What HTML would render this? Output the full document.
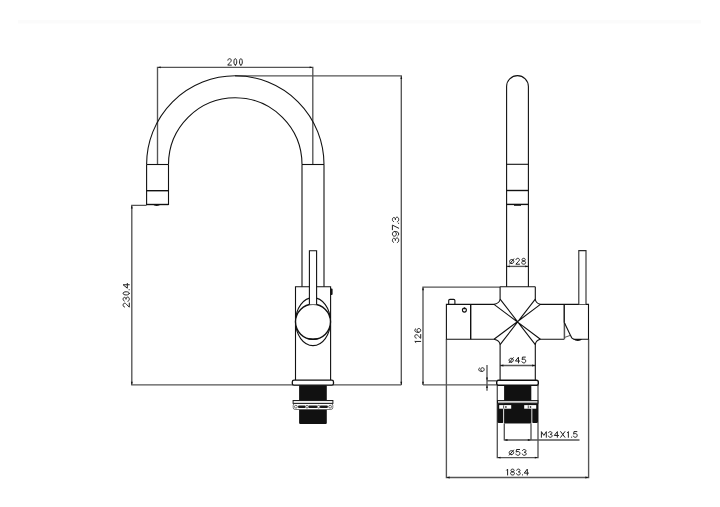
<!DOCTYPE html>
<html>
<head>
<meta charset="utf-8">
<title>Faucet dimensions</title>
<style>
html,body{margin:0;padding:0;background:#fff;}
body{width:720px;height:507px;overflow:hidden;font-family:"Liberation Sans",sans-serif;}
svg{display:block;}
.l{fill:none;stroke:#111;stroke-width:1.1;}
.t{fill:none;stroke:#111;stroke-width:1.4;}
.d{fill:none;stroke:#555;stroke-width:1.35;}
.w{fill:#fff;stroke:#111;stroke-width:1.1;}
.k{fill:#111;stroke:none;}
.ar{fill:#111;stroke:none;}
.tx{fill:none;stroke:#222;stroke-linecap:round;stroke-linejoin:round;}
</style>
</head>
<body>
<svg width="720" height="507" viewBox="0 0 720 507">
<rect width="720" height="507" fill="#fff"/>
<rect x="18" y="20" width="683" height="3.5" fill="#fbfbfb"/>

<!-- ================= LEFT VIEW ================= -->
<g class="d">
  <path d="M157.5 164.5V67.3H312.8V164.5"/>
  <path d="M235 75.9H401.3V384.9"/>
  <path d="M146.6 205.3H131.8V384.9H401.3"/>
</g>
<!-- spout arch -->
<g class="l">
  <path d="M146.6 164.5A88.7 88.7 0 0 1 324 164.5"/>
  <path d="M168.5 164.5A66.75 66.75 0 0 1 302 164.5"/>
  <path d="M146.6 164.5H168.5"/>
  <path d="M302 164.5H324"/>
  <path d="M146.6 164.5V204.5H168.5V164.5"/>
  <path d="M302 164.5V286.7"/>
  <path d="M324 164.5V286.7"/>
</g>
<path class="t" d="M146.6 190.7H168.5"/>
<path class="t" d="M146.6 204.5H168.5"/>
<path class="k" d="M152.8 204.6h7.8q-1.2 1.4-3.9 1.4t-3.9-1.4z"/>
<!-- body -->
<g class="l">
  <path d="M295.5 380V286.7H330.6V380"/>
  <ellipse cx="313" cy="321.6" rx="17.4" ry="24"/>
</g>
<path class="k" d="M330.6 288.6h1q1 0 1 1.2v4q0 1.2-1 1.2h-1z"/>
<circle cx="313" cy="321.8" r="17.5" fill="#fff" stroke="#111" stroke-width="1.4"/>
<path d="M307.5 338.6Q313 340.6 318.5 338.6Q313 339.6 307.5 338.6Z" fill="#111" stroke="#111" stroke-width="0.8"/>
<path class="w" d="M309.4 304.4V250.7H316.6V304.4"/>
<!-- base flange -->
<rect x="292.3" y="380.2" width="41.2" height="5" rx="1.8" fill="#fff" stroke="#111" stroke-width="1.3"/>
<!-- threaded shank -->
<rect class="k" x="299.1" y="385.3" width="27.7" height="38.6" rx="0.8"/>
<!-- nut -->
<rect x="293.2" y="403.4" width="39.6" height="6.1" rx="2" fill="#fff" stroke="#555" stroke-width="0.8"/>
<rect x="293.1" y="400.5" width="39.8" height="2.9" fill="#eee" stroke="#1c1c1c" stroke-width="1"/>
<g fill="#1a1a1a">
  <rect x="298" y="405.4" width="7.6" height="2.6" rx="1"/>
  <rect x="308.3" y="405.4" width="9.1" height="2.6" rx="1"/>
  <rect x="319.7" y="405.4" width="8.2" height="2.6" rx="1"/>
</g>
<g fill="#fff" stroke="#333" stroke-width="0.7">
  <circle cx="295.9" cy="406.7" r="1.4"/>
  <circle cx="307" cy="406.7" r="1.3"/>
  <circle cx="318.6" cy="406.7" r="1.3"/>
  <circle cx="330.1" cy="406.7" r="1.4"/>
</g>

<!-- ================= RIGHT VIEW ================= -->
<g class="d">
  <path d="M423 384.9V287.1H500"/>
  <path d="M423 384.9H496.5"/>
  <path d="M446.4 339.3V477.5H588.6V339.3"/>
  <path d="M506.6 266.4H528.4"/>
  <path d="M500.2 365.5H535.3"/>
  <path d="M487 365V390.8"/>
  <path d="M487 380.8H496.5"/>
  <path d="M497.3 385V458.2M538 385V458.2M497.3 457.6H538"/>
  <path d="M504.3 423.5V440.6M531 423.5V440.6M504.3 440H579.5"/>
</g>
<!-- spout (front) -->
<g class="l">
  <path d="M506.6 286.7V86.5A10.9 10.9 0 0 1 528.4 86.5V286.7"/>
  <path d="M506.6 164.3H528.4"/>
</g>
<path class="t" d="M506.6 190.5H528.4"/>
<path class="t" d="M506.6 204.4H528.4"/>
<path class="k" d="M514 204.4h7v1.4h-7z"/>
<!-- small cap -->
<path class="w" d="M448.7 304.4V300.6Q448.7 299.4 450 299.4H453.6Q454.9 299.4 454.9 300.6V304.4"/>
<!-- body cross -->
<g class="l">
  <path d="M500.1 286.8H535.3"/>
  <path d="M500.1 286.8V299.2Q499.6 303.2 494 304.4H446.4V339.3H494Q499.6 340.4 500.1 344.6V380.4"/>
  <path d="M535.3 286.8V299.2Q535.8 303.2 540.4 304.4H588.5V339.3H573.6M564.2 339.3H540.4Q535.8 340.4 535.3 344.6V380.4"/>
  <path d="M494 304.4L540.4 339.3M500.1 299.2L535.3 344.6M540.4 304.4L494 339.3M535.3 299.2L500.1 344.6"/>
</g>
<path class="t" d="M470.7 304.4V339.3"/>
<path class="t" d="M564.2 304.4V322.8"/>
<path d="M564.4 322.8V339.3" fill="none" stroke="#555" stroke-width="1.5"/>
<path class="l" d="M564.3 322.4L570.4 335.2Q571.6 338.9 574.2 339.3"/>
<path d="M564.4 337.5L570.2 335.4" fill="none" stroke="#444" stroke-width="0.9"/>
<path class="k" d="M573.4 339h8.8q-1.5 2-4.4 2t-4.4-2z"/>
<!-- small circle -->
<circle class="l" cx="464.4" cy="310.1" r="2.0"/>
<path d="M464.4 307L465.6 309.2H463.2Z" fill="#111"/>
<!-- lever -->
<path d="M578.8 304.3V250.6H586V304.3" fill="#fff" stroke="#2a2a2a" stroke-width="1.1"/>
<!-- base flange -->
<rect x="496.7" y="380.3" width="41.6" height="4.9" rx="1.8" fill="#fff" stroke="#111" stroke-width="1.4"/>
<!-- threaded shank -->
<rect class="k" x="504.1" y="385.3" width="27.2" height="38"/>
<!-- nut -->
<path class="k" d="M497.4 403.2H538V421.4Q538 422.9 536.5 422.9H533.3Q531.9 422.9 531.8 422.2V423.3H503.7V422.2Q503.6 422.9 502.2 422.9H498.9Q497.4 422.9 497.4 421.4z"/>
<rect x="497.5" y="400.6" width="40.4" height="2.6" fill="#e6e6e6" stroke="#111" stroke-width="1"/>
<rect x="503.2" y="408.6" width="0.9" height="14.8" fill="#fff"/>
<rect x="531.4" y="408.6" width="0.9" height="14.8" fill="#fff"/>
<g fill="#fff" stroke="none">
  <rect x="499.2" y="405.1" width="12" height="3.6"/>
  <rect x="524.2" y="405.1" width="12" height="3.6"/>
</g>
<g fill="#222">
  <rect x="503.3" y="405.4" width="0.8" height="3"/>
  <rect x="505.2" y="406.2" width="1.4" height="1.6"/>
  <rect x="527.8" y="405.4" width="0.8" height="3"/>
  <rect x="529.8" y="406.2" width="1.4" height="1.6"/>
</g>

<!-- ================= ARROWHEADS ================= -->
<path class="ar" d="M157.50 67.30L160.70 66.40L160.70 68.20 Z"/>
<path class="ar" d="M312.80 67.30L309.60 66.40L309.60 68.20 Z"/>
<path class="ar" d="M401.30 75.90L400.40 79.10L402.20 79.10 Z"/>
<path class="ar" d="M401.30 384.90L400.40 381.70L402.20 381.70 Z"/>
<path class="ar" d="M131.80 205.30L130.90 208.50L132.70 208.50 Z"/>
<path class="ar" d="M131.80 384.90L130.90 381.70L132.70 381.70 Z"/>
<path class="ar" d="M423.00 287.10L422.10 290.30L423.90 290.30 Z"/>
<path class="ar" d="M423.00 384.90L422.10 381.70L423.90 381.70 Z"/>
<path class="ar" d="M506.70 266.40L509.90 265.50L509.90 267.30 Z"/>
<path class="ar" d="M528.40 266.40L525.20 265.50L525.20 267.30 Z"/>
<path class="ar" d="M500.20 365.50L503.40 364.60L503.40 366.40 Z"/>
<path class="ar" d="M535.30 365.50L532.10 364.60L532.10 366.40 Z"/>
<path class="ar" d="M487.00 380.70L486.10 377.50L487.90 377.50 Z"/>
<path class="ar" d="M487.00 384.90L486.10 388.10L487.90 388.10 Z"/>
<path class="ar" d="M497.30 457.60L500.50 456.70L500.50 458.50 Z"/>
<path class="ar" d="M538.00 457.60L534.80 456.70L534.80 458.50 Z"/>
<path class="ar" d="M504.30 440.00L507.50 439.10L507.50 440.90 Z"/>
<path class="ar" d="M531.00 440.00L527.80 439.10L527.80 440.90 Z"/>
<path class="ar" d="M446.40 477.50L449.60 476.60L449.60 478.40 Z"/>
<path class="ar" d="M588.60 477.50L585.40 476.60L585.40 478.40 Z"/>

<!-- ================= TEXT (stroke font) ================= -->
<path class="tx" stroke-width="1.00" d="M227.86 60.21C227.94 59.32 228.58 58.70 229.55 58.70C230.60 58.70 231.24 59.32 231.24 60.30C231.24 61.10 230.84 61.72 229.95 62.52L227.70 65.10L231.40 65.10M235.33 65.10C234.37 65.10 233.93 63.68 233.93 61.90C233.93 60.12 234.37 58.70 235.33 58.70C236.28 58.70 236.73 60.12 236.73 61.90C236.73 63.68 236.28 65.10 235.33 65.10ZM240.90 65.10C239.94 65.10 239.50 63.68 239.50 61.90C239.50 60.12 239.94 58.70 240.90 58.70C241.86 58.70 242.30 60.12 242.30 61.90C242.30 63.68 241.86 65.10 240.90 65.10Z"/><!-- 200 w=15.6 -->
<path class="tx" stroke-width="1.00" d="M124.56 307.02C123.70 306.93 123.10 306.20 123.10 305.12C123.10 303.94 123.70 303.21 124.65 303.21C125.43 303.21 126.03 303.66 126.80 304.66L129.30 307.20L129.30 303.03M124.31 301.06C123.53 300.79 123.10 300.15 123.10 299.16C123.10 298.07 123.70 297.34 124.56 297.34C125.43 297.34 126.03 298.07 126.03 299.34C126.03 297.89 126.63 297.07 127.66 297.07C128.70 297.07 129.30 297.89 129.30 299.16C129.30 300.25 128.78 300.97 127.92 301.24M129.30 293.37C129.30 294.46 127.92 294.96 126.20 294.96C124.48 294.96 123.10 294.46 123.10 293.37C123.10 292.29 124.48 291.78 126.20 291.78C127.92 291.78 129.30 292.29 129.30 293.37ZM129.30 289.74L129.04 289.74M129.30 284.75L123.10 284.75L127.32 288.23L127.32 283.40"/><!-- 230.4 w=24.8 -->
<path class="tx" stroke-width="1.00" d="M393.62 242.40C392.84 242.10 392.40 241.39 392.40 240.28C392.40 239.07 393.01 238.26 393.89 238.26C394.76 238.26 395.38 239.07 395.38 240.48C395.38 238.87 395.99 237.96 397.04 237.96C398.09 237.96 398.70 238.87 398.70 240.28C398.70 241.49 398.18 242.30 397.30 242.60M397.82 235.82C398.35 235.51 398.70 234.88 398.70 234.06C398.70 232.50 397.47 231.47 395.29 231.47C393.45 231.47 392.40 232.40 392.40 233.85C392.40 235.30 393.19 236.23 394.41 236.23C395.55 236.23 396.34 235.30 396.34 233.95C396.34 232.71 395.64 231.68 394.76 231.47M392.40 229.74L392.40 225.10L398.70 228.23M398.70 223.30L398.44 223.30M393.62 221.64C392.84 221.34 392.40 220.63 392.40 219.52C392.40 218.31 393.01 217.50 393.89 217.50C394.76 217.50 395.38 218.31 395.38 219.72C395.38 218.11 395.99 217.20 397.04 217.20C398.09 217.20 398.70 218.11 398.70 219.52C398.70 220.73 398.18 221.54 397.30 221.84"/><!-- 397.3 w=26.4 -->
<path class="tx" stroke-width="1.00" d="M415.87 342.50L414.80 341.44L420.70 341.44M416.19 338.15C415.37 338.07 414.80 337.40 414.80 336.40C414.80 335.31 415.37 334.65 416.27 334.65C417.01 334.65 417.59 335.06 418.32 335.98L420.70 338.32L420.70 334.48M415.62 328.83C415.13 329.08 414.80 329.59 414.80 330.25C414.80 331.51 415.95 332.34 418.00 332.34C419.72 332.34 420.70 331.59 420.70 330.42C420.70 329.25 419.96 328.50 418.82 328.50C417.75 328.50 417.01 329.25 417.01 330.34C417.01 331.34 417.67 332.17 418.49 332.34"/><!-- 126 w=15.0 -->
<path class="tx" stroke-width="1.00" d="M511.70 263.50C512.87 263.50 513.83 262.60 513.83 261.50C513.83 260.39 512.87 259.49 511.70 259.49C510.53 259.49 509.57 260.39 509.57 261.50C509.57 262.60 510.53 263.50 511.70 263.50ZM509.61 264.04L513.79 258.87M516.01 259.69C516.09 258.87 516.73 258.30 517.70 258.30C518.75 258.30 519.39 258.87 519.39 259.77C519.39 260.51 518.99 261.09 518.10 261.82L515.85 264.20L519.55 264.20M523.65 261.00C522.55 261.00 522.04 260.43 522.04 259.69C522.04 258.87 522.63 258.30 523.65 258.30C524.67 258.30 525.26 258.87 525.26 259.69C525.26 260.43 524.75 261.00 523.65 261.00C522.46 261.00 521.70 261.66 521.70 262.60C521.70 263.54 522.46 264.20 523.65 264.20C524.84 264.20 525.60 263.54 525.60 262.60C525.60 261.66 524.84 261.00 523.65 261.00"/><!-- o28 w=16.9 -->
<path class="tx" stroke-width="1.00" d="M511.20 362.22C512.37 362.22 513.33 361.33 513.33 360.24C513.33 359.15 512.37 358.27 511.20 358.27C510.03 358.27 509.07 359.15 509.07 360.24C509.07 361.33 510.03 362.22 511.20 362.22ZM509.11 362.74L513.29 357.66M518.50 362.90L518.50 357.10L515.40 361.05L519.70 361.05M525.37 357.10L522.48 357.10L522.15 359.68C522.64 359.27 523.22 359.11 523.88 359.11C524.96 359.11 525.70 359.84 525.70 360.97C525.70 362.17 524.96 362.90 523.80 362.90C522.81 362.90 522.15 362.42 521.90 361.69"/><!-- o45 w=17.5 -->
<path class="tx" stroke-width="1.00" d="M479.46 368.02C479.01 368.26 478.70 368.75 478.70 369.39C478.70 370.60 479.77 371.40 481.68 371.40C483.28 371.40 484.20 370.68 484.20 369.55C484.20 368.42 483.51 367.70 482.44 367.70C481.45 367.70 480.76 368.42 480.76 369.47C480.76 370.43 481.37 371.24 482.14 371.40"/><!-- 6 w=4.7 -->
<path class="tx" stroke-width="1.00" d="M541.40 437.30L541.40 431.60L543.85 435.40L546.30 431.60L546.30 437.30M548.59 432.71C548.83 432.00 549.39 431.60 550.28 431.60C551.24 431.60 551.89 432.15 551.89 432.95C551.89 433.74 551.24 434.29 550.12 434.29C551.40 434.29 552.13 434.85 552.13 435.80C552.13 436.75 551.40 437.30 550.28 437.30C549.31 437.30 548.67 436.82 548.43 436.03M557.35 437.30L557.35 431.60L554.26 435.48L558.56 435.48M560.68 437.30L564.88 431.60M560.68 431.60L564.88 437.30M567.37 432.63L568.37 431.60L568.37 437.30M571.63 437.30L571.63 437.06M576.87 431.60L573.98 431.60L573.65 434.13C574.14 433.74 574.72 433.58 575.38 433.58C576.46 433.58 577.20 434.29 577.20 435.40C577.20 436.59 576.46 437.30 575.30 437.30C574.31 437.30 573.65 436.82 573.40 436.11"/><!-- M34X1.5 w=36.8 -->
<path class="tx" stroke-width="1.00" d="M511.43 454.62C512.67 454.62 513.69 453.73 513.69 452.64C513.69 451.55 512.67 450.67 511.43 450.67C510.18 450.67 509.16 451.55 509.16 452.64C509.16 453.73 510.18 454.62 511.43 454.62ZM509.21 455.14L513.64 450.06M519.58 449.50L516.50 449.50L516.15 452.08C516.68 451.68 517.29 451.51 518.00 451.51C519.14 451.51 519.93 452.24 519.93 453.37C519.93 454.57 519.14 455.30 517.91 455.30C516.85 455.30 516.15 454.82 515.89 454.09M522.44 450.63C522.69 449.90 523.29 449.50 524.23 449.50C525.26 449.50 525.94 450.06 525.94 450.87C525.94 451.68 525.26 452.24 524.06 452.24C525.43 452.24 526.20 452.80 526.20 453.77C526.20 454.74 525.43 455.30 524.23 455.30C523.21 455.30 522.52 454.82 522.26 454.01"/><!-- o53 w=17.9 -->
<path class="tx" stroke-width="1.00" d="M506.60 470.17L507.60 469.10L507.60 475.00M512.54 471.80C511.44 471.80 510.93 471.23 510.93 470.49C510.93 469.67 511.53 469.10 512.54 469.10C513.56 469.10 514.15 469.67 514.15 470.49C514.15 471.23 513.64 471.80 512.54 471.80C511.36 471.80 510.59 472.46 510.59 473.40C510.59 474.34 511.36 475.00 512.54 475.00C513.73 475.00 514.49 474.34 514.49 473.40C514.49 472.46 513.73 471.80 512.54 471.80M516.72 470.25C516.96 469.51 517.53 469.10 518.41 469.10C519.38 469.10 520.02 469.67 520.02 470.49C520.02 471.31 519.38 471.89 518.25 471.89C519.54 471.89 520.26 472.46 520.26 473.44C520.26 474.43 519.54 475.00 518.41 475.00C517.45 475.00 516.80 474.51 516.56 473.69M522.47 475.00L522.47 474.75M527.30 475.00L527.30 469.10L524.20 473.12L528.50 473.12"/><!-- 183.4 w=22.9 -->
</svg>
</body>
</html>
